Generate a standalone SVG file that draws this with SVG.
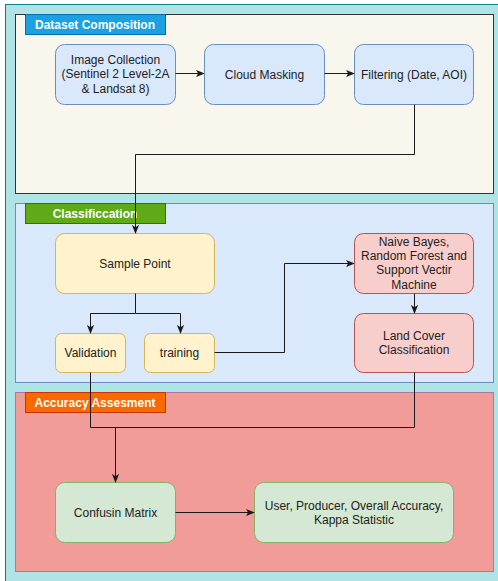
<svg xmlns="http://www.w3.org/2000/svg" width="498" height="581" viewBox="0 0 498 581">
<style>
.t{font-family:"Liberation Sans",Arial,sans-serif;font-size:12px;fill:#222;text-anchor:middle}
.h{font-family:"Liberation Sans",Arial,sans-serif;font-size:12px;font-weight:bold;fill:#fff;text-anchor:middle}
.blue{fill:#dae8fc;stroke:#6c8ebf;stroke-width:1}
.yel{fill:#fff2cc;stroke:#d6b656;stroke-width:1}
.red{fill:#f8cecc;stroke:#b85450;stroke-width:1}
.grn{fill:#d5e8d4;stroke:#82b366;stroke-width:1}
.c{fill:none;stroke:#1a1a1a;stroke-width:1;marker-end:url(#a)}
.cn{fill:none;stroke:#1a1a1a;stroke-width:1}
</style>
<defs>
<marker id="a" viewBox="0 0 10 10" refX="9" refY="5" markerWidth="9" markerHeight="9" markerUnits="userSpaceOnUse" orient="auto">
<path d="M0,1 L10,5 L0,9 L2.5,5 Z" fill="#1a1a1a"/>
</marker>
</defs>
<rect x="0" y="0" width="498" height="581" fill="#ffffff"/>
<rect x="5.5" y="4.5" width="500" height="590" fill="#b0e3e6" stroke="#0e8088"/>
<g id="panel-dataset">
<rect x="15.5" y="14.5" width="478" height="179" fill="#f9f7ed" stroke="#333333"/>
<rect x="25.5" y="14.5" width="140" height="20" fill="#1ba1e2" stroke="#006eaf"/>
<text class="h" x="95" y="28.5">Dataset Composition</text>
</g>
<g id="panel-classification">
<rect x="15.5" y="203.5" width="478" height="179" fill="#dae8fc" stroke="#6c8ebf"/>
<rect x="25.5" y="203.5" width="140" height="20" fill="#60a917" stroke="#2d7600"/>
<text class="h" x="95" y="217.5">Classificcation</text>
</g>
<g id="panel-accuracy">
<rect x="15.5" y="392.5" width="478" height="179" fill="#f19c99" stroke="#b5739d"/>
<rect x="25.5" y="392.5" width="140" height="20" fill="#fa6800" stroke="#c73500"/>
<text class="h" x="95" y="406.5">Accuracy Assesment</text>
</g>
<g id="n-image">
<rect class="blue" x="55.5" y="44.5" width="120" height="60" rx="9"/>
<text class="t" x="115.5" y="64">Image Collection</text>
<text class="t" x="115.5" y="78.4">(Sentinel 2 Level-2A</text>
<text class="t" x="115.5" y="92.8">&amp; Landsat 8)</text>
</g>
<g id="n-cloud">
<rect class="blue" x="204.5" y="44.5" width="120" height="60" rx="9"/>
<text class="t" x="264.5" y="78.5">Cloud Masking</text>
</g>
<g id="n-filter">
<rect class="blue" x="354.5" y="44.5" width="119" height="60" rx="9"/>
<text class="t" x="414" y="78.5">Filtering (Date, AOI)</text>
</g>
<g id="n-sample">
<rect class="yel" x="55.5" y="233.5" width="159" height="60" rx="9"/>
<text class="t" x="135" y="267.5">Sample Point</text>
</g>
<g id="n-validation">
<rect class="yel" x="55.5" y="333.5" width="70" height="39" rx="6"/>
<text class="t" x="90.5" y="356.5">Validation</text>
</g>
<g id="n-training">
<rect class="yel" x="144.5" y="333.5" width="70" height="39" rx="6"/>
<text class="t" x="179.5" y="356.5">training</text>
</g>
<g id="n-algos">
<rect class="red" x="354.5" y="233.5" width="119" height="60" rx="9"/>
<text class="t" x="414" y="246">Naive Bayes,</text>
<text class="t" x="414" y="260.2">Random Forest and</text>
<text class="t" x="414" y="274.4">Support Vectir</text>
<text class="t" x="414" y="288.6">Machine</text>
</g>
<g id="n-landcover">
<rect class="red" x="354.5" y="313.5" width="119" height="59" rx="9"/>
<text class="t" x="414" y="339.5">Land Cover</text>
<text class="t" x="414" y="353.9">Classification</text>
</g>
<g id="n-confusion">
<rect class="grn" x="55.5" y="482.5" width="120" height="60" rx="9"/>
<text class="t" x="115.5" y="516.5">Confusin Matrix</text>
</g>
<g id="n-accuracy">
<rect class="grn" x="254.5" y="482.5" width="199" height="60" rx="9"/>
<text class="t" x="354" y="509.5">User, Producer, Overall Accuracy,</text>
<text class="t" x="354" y="523.9">Kappa Statistic</text>
</g>
<g id="connectors">
<path class="c" d="M175.5,73.5 H204"/>
<path class="c" d="M324.5,73.5 H354"/>
<path class="c" d="M414.5,104.5 V154.5 H135.5 V233"/>
<path class="c" d="M135.5,293.5 V313.5 H90.5 V333"/>
<path class="c" d="M135.5,313.5 H180.5 V333"/>
<path class="c" d="M214.5,352.5 H284.5 V263.5 H354"/>
<path class="c" d="M414.5,293.5 V313"/>
<path class="cn" d="M90.5,372.5 V427.5 H414.5 V372.5"/>
<path class="c" d="M115.5,427.5 V482"/>
<path class="c" d="M175.5,512.5 H254"/>
</g>
</svg>
